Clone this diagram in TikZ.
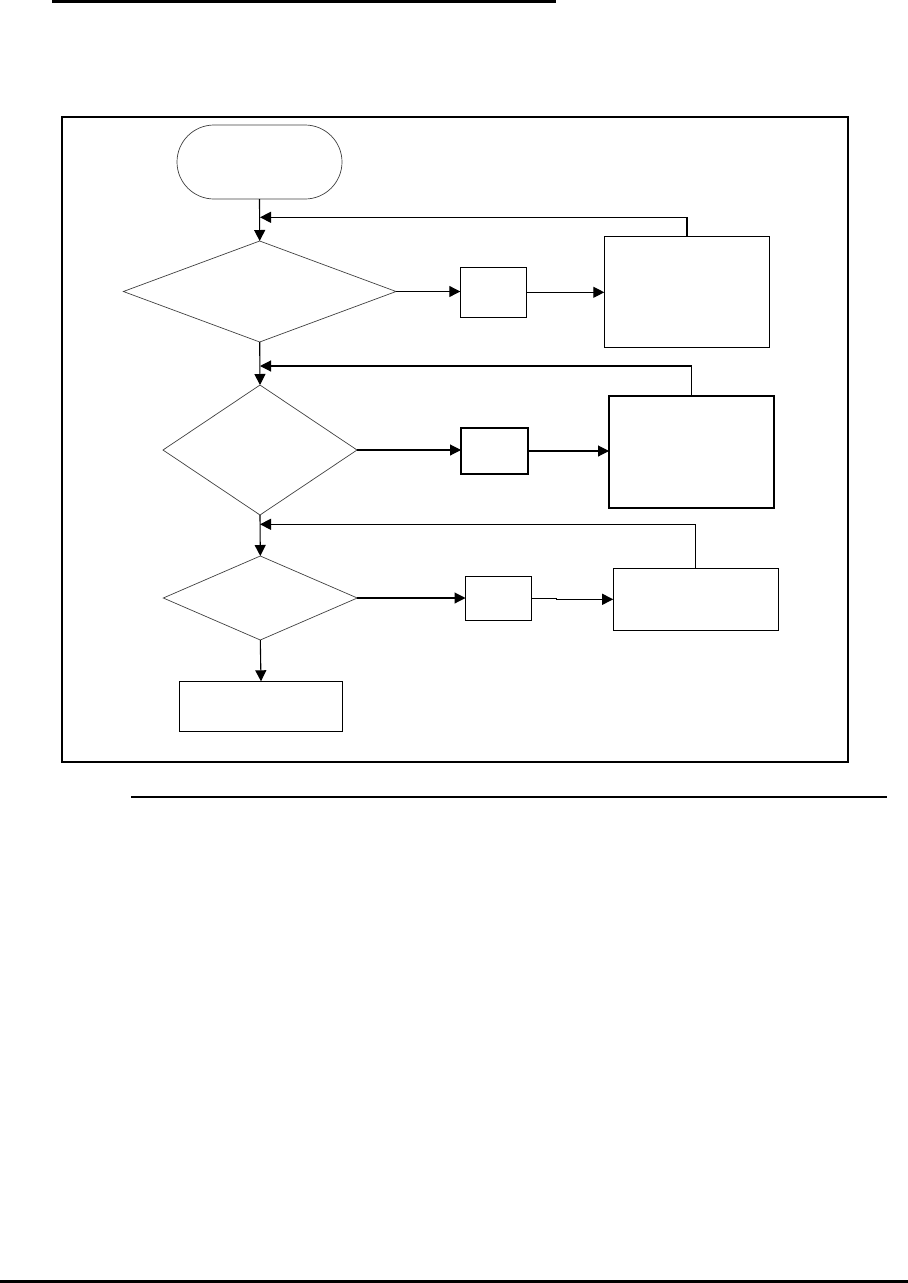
\documentclass[tikz,border=0pt]{standalone}
\usetikzlibrary{shapes.geometric,arrows.meta}
\tikzset{
  flow/.style={line width=1.1pt,-{Triangle[length=11pt,width=11pt]}},
  plain/.style={line width=1.1pt},
  dec/.style={diamond,draw=black!75,line width=0.7pt,inner sep=0pt,outer sep=0pt},
  boxnode/.style={rectangle,draw,line width=1.2pt,inner sep=0pt,outer sep=0pt},
  termnode/.style={rectangle,draw=black!75,line width=0.7pt,rounded corners=37pt,inner sep=0pt,outer sep=0pt,minimum width=165pt,minimum height=74pt}
}
\begin{document}
\begin{tikzpicture}[x=1pt,y=-1pt]
\useasboundingbox (0,0) rectangle (908,1283);
% page rules and frame
\draw[line width=3pt] (52,1.5) -- (556,1.5);
\draw[line width=2pt] (62,117) rectangle (848,762);
\draw[line width=1.2pt] (131,797) -- (887,797);
\draw[line width=2.5pt] (0,1281.7) -- (908,1281.7);
% nodes
\node[termnode] (start) at (259.5,162) {};
\node[dec,minimum width=272.7pt,minimum height=101pt] (d1) at (259.7,291.5) {};
\node[dec,minimum width=194pt,minimum height=130pt] (d2) at (260,450) {};
\node[dec,minimum width=194pt,minimum height=84pt] (d3) at (260.3,598) {};
\node[boxnode,minimum width=66.4pt,minimum height=50pt] (s1) at (493.5,292.3) {};
\node[boxnode,minimum width=67pt,minimum height=46pt] (s2) at (494.5,451) {};
\node[boxnode,minimum width=66pt,minimum height=44pt] (s3) at (498.5,598.3) {};
\node[boxnode,minimum width=165.4pt,minimum height=111pt] (b1) at (687,291.8) {};
\node[boxnode,minimum width=165pt,minimum height=112pt] (b2) at (691.5,452) {};
\node[boxnode,minimum width=165.2pt,minimum height=62pt] (b3) at (695.8,599.3) {};
\node[boxnode,minimum width=163.4pt,minimum height=50pt] (fin) at (261,706.3) {};
% merge points on the spine
\coordinate (m1) at (260,217.3);
\coordinate (m2) at (260,366);
\coordinate (m3) at (260,524.3);
\coordinate (j3) at (556.5,598.3);
% spine
\draw[flow] (start.south) -- (d1.north);
\draw[flow] (d1.south) -- (d2.north);
\draw[flow] (d2.south) -- (d3.north);
\draw[flow] (d3.south) -- (fin.north);
% right branches
\draw[flow] (d1.east) -- (d1.east -| s1.west);
\draw[flow] (s1.east) -- (s1.east -| b1.west);
\draw[flow] (d2.east) -- (d2.east -| s2.west);
\draw[flow] (s2.east) -- (s2.east -| b2.west);
\draw[flow] (d3.east) -- (d3.east -| s3.west);
\draw[plain] (s3.east) -- (j3);
\draw[flow] (j3) |- (b3.west);
% feedback loops
\draw[flow] (b1.north) |- (m1);
\draw[flow] (b2.north) |- (m2);
\draw[flow] (b3.north) |- (m3);
\end{tikzpicture}
\end{document}
